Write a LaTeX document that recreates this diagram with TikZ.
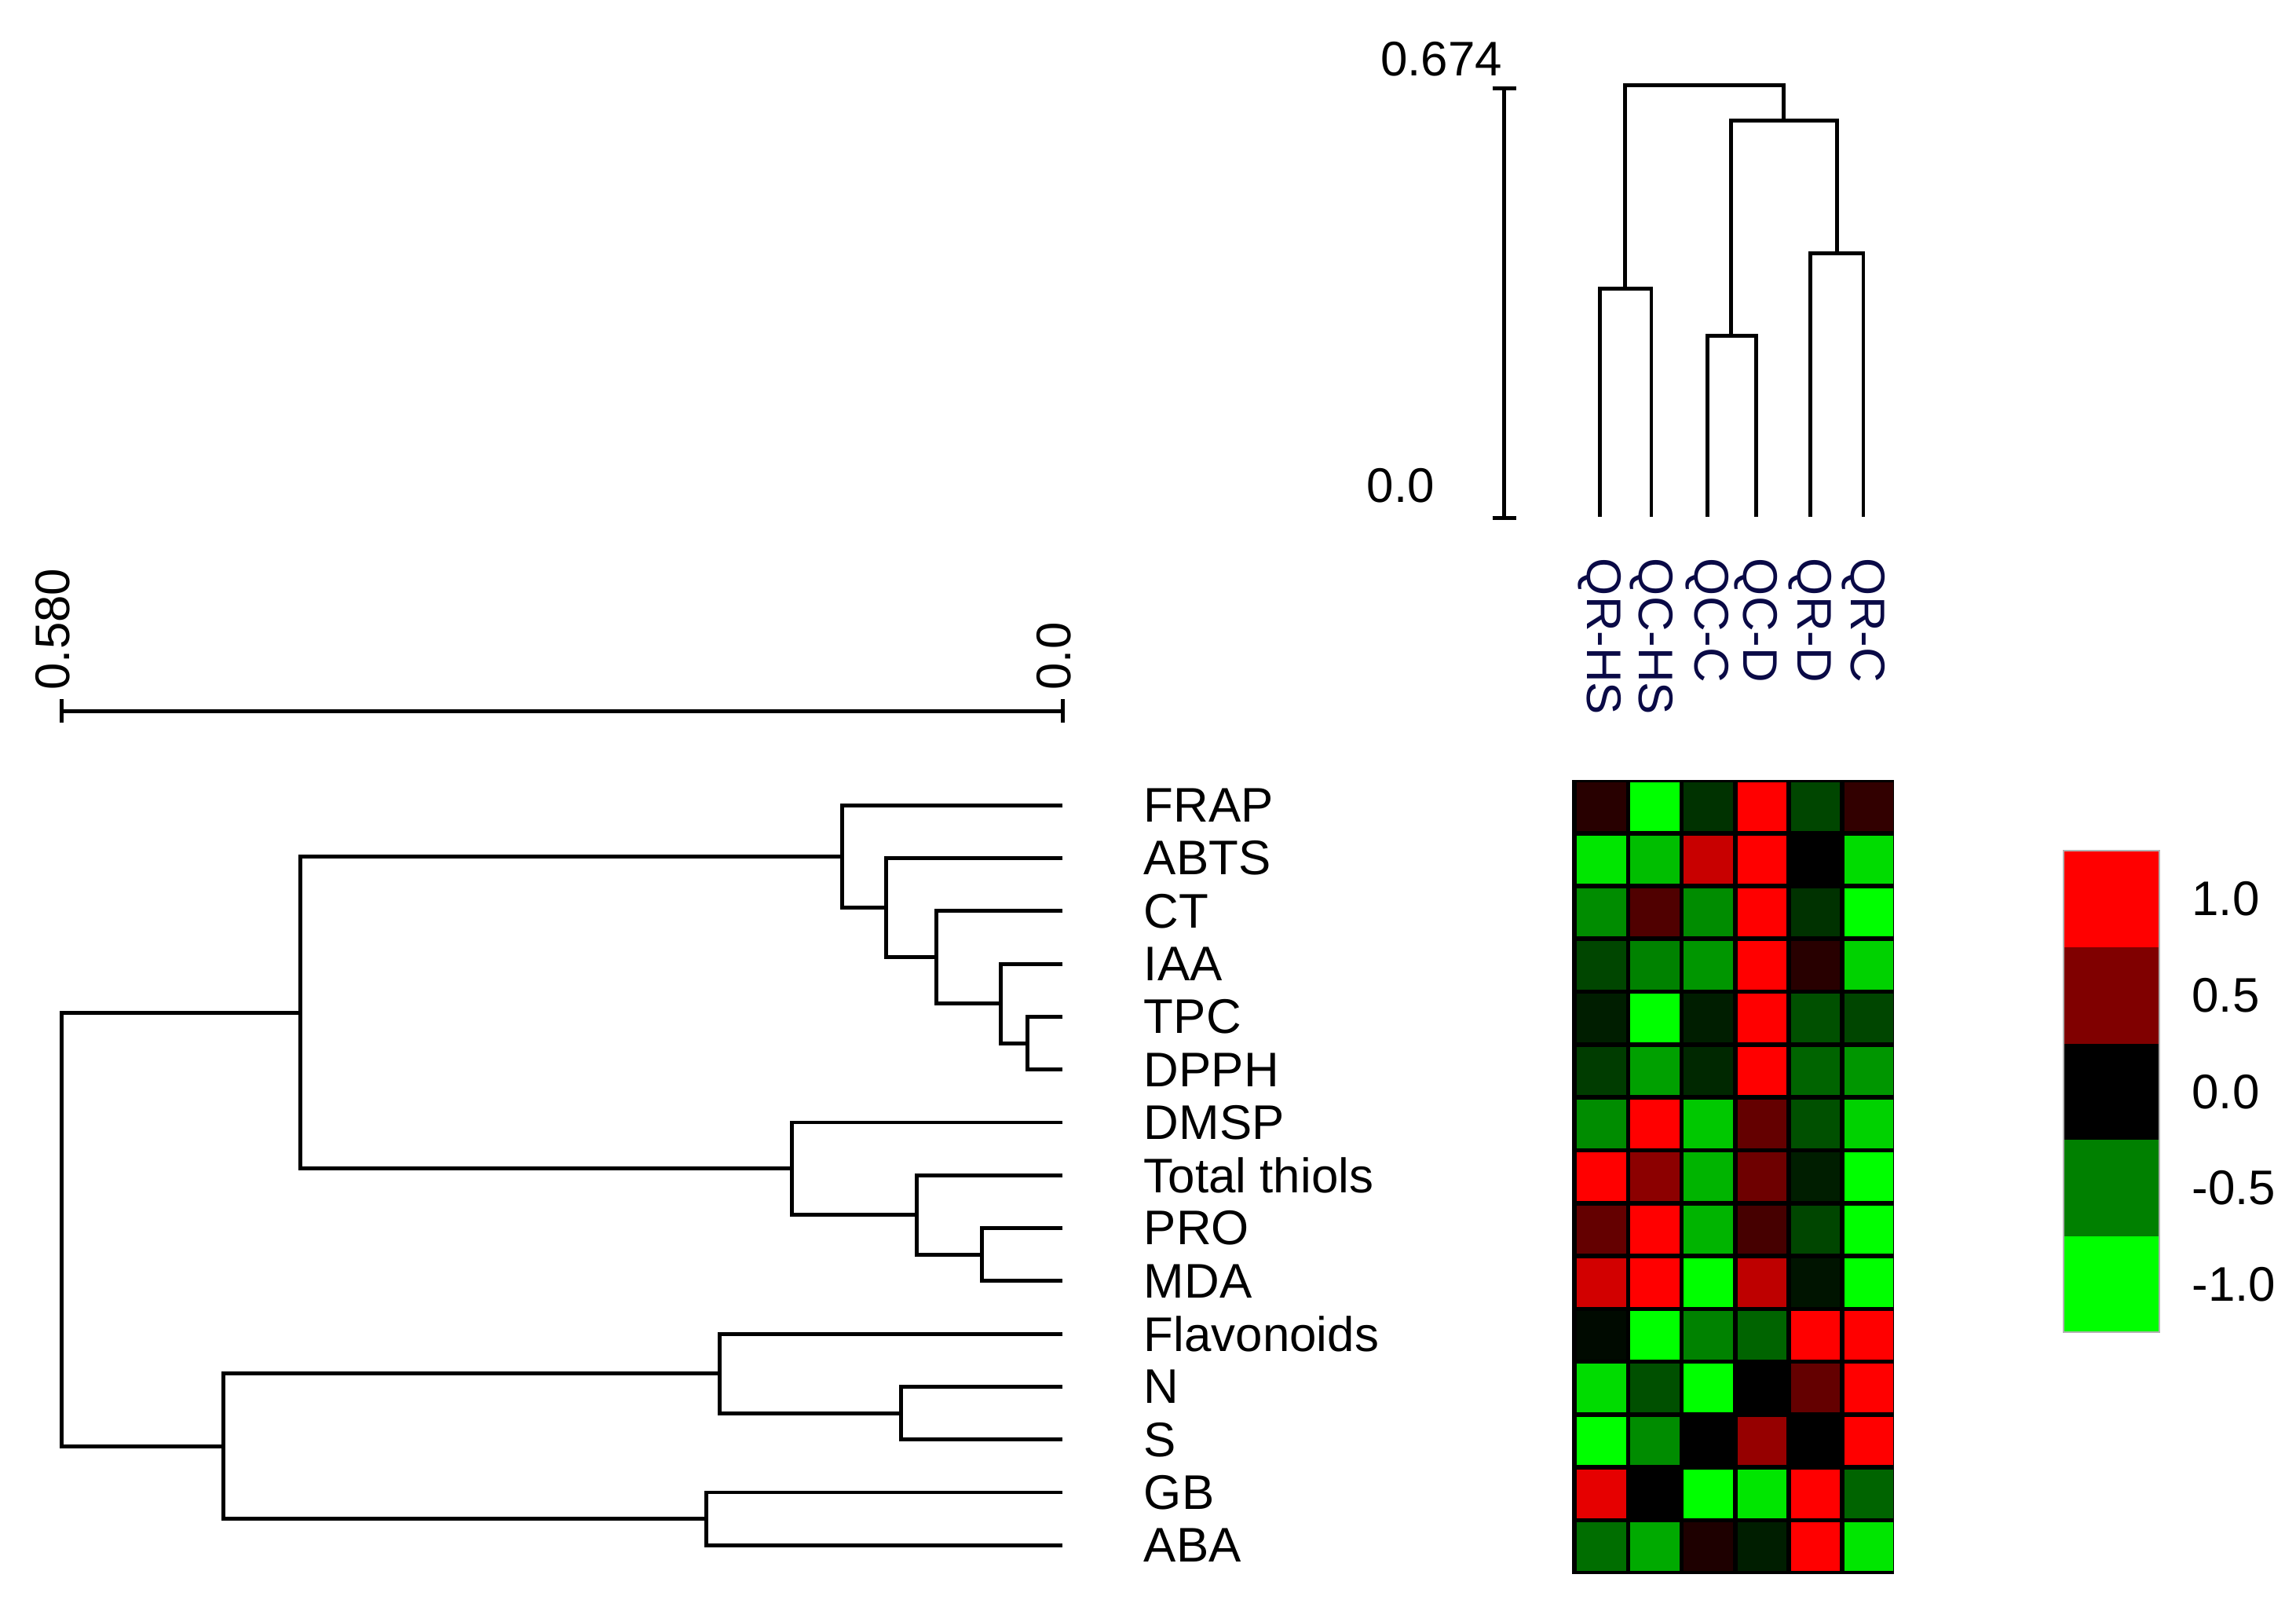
\documentclass[tikz,border=0pt]{standalone}
\usepackage{fontspec}
\setmainfont{Liberation Sans}
\begin{document}
\begin{tikzpicture}[x=1pt,y=-1pt,line width=2.6pt,
  lab/.style={font=\fontsize{33}{33}\selectfont,inner sep=0pt},
  br/.style={line cap=rect}]
\useasboundingbox (0,0) rectangle (1560,1086.4);
% ---------- top dendrogram ----------
\draw (1022,60) -- (1022,352);
\draw (1014,60) -- (1030,60);
\draw (1014,352) -- (1030,352);
\node[lab,anchor=east] at (1022,40) {0.674};
\node[lab,anchor=east] at (976,330) {0.0};
\draw[br] (1087,350) -- (1087,196) -- (1122,196) -- (1122,350);
\draw[br] (1160,350) -- (1160,228) -- (1193,228) -- (1193,350);
\draw[br] (1230,350) -- (1230,172) -- (1266,172) -- (1266,350);
\draw[br] (1176,228) -- (1176,82) -- (1248,82) -- (1248,172);
\draw[br] (1104,196) -- (1104,58) -- (1212,58) -- (1212,82);
\foreach \x/\t in {1087/QR-HS,1122/QC-HS,1160/QC-C,1193/QC-D,1230/QR-D,1266/QR-C}
  \node[lab,rotate=-90,anchor=west,text={rgb,255:red,10;green,10;blue,70}] at (\x,378) {\t};
% ---------- left dendrogram ----------
\draw (42,483) -- (722,483);
\draw (42,475) -- (42,491);
\draw (722,475) -- (722,491);
\node[lab,rotate=90,anchor=west] at (36,470) {0.580};
\node[lab,rotate=90,anchor=west] at (716,470) {0.0};
\foreach \i/\t in {0/FRAP,1/ABTS,2/CT,3/IAA,4/TPC,5/DPPH,6/DMSP,7/Total thiols,8/PRO,9/MDA,10/Flavonoids,11/N,12/S,13/GB,14/ABA}
  \node[lab,anchor=west] at (776,547+35.9*\i) {\t};
\def\Y#1{547+35.9*#1}
\draw (722,{\Y4}) -- (698,{\Y4}) -- (698,{\Y5}) -- (722,{\Y5});
\draw (722,{\Y3}) -- (680,{\Y3}) -- (680,708.55) -- (698,708.55);
\draw (722,{\Y2}) -- (636,{\Y2}) -- (636,681.6) -- (680,681.6);
\draw (722,{\Y1}) -- (602,{\Y1}) -- (602,650.2) -- (636,650.2);
\draw (722,{\Y0}) -- (572,{\Y0}) -- (572,616.6) -- (602,616.6);
\draw (722,{\Y8}) -- (667,{\Y8}) -- (667,{\Y9}) -- (722,{\Y9});
\draw (722,{\Y7}) -- (623,{\Y7}) -- (623,852.2) -- (667,852.2);
\draw (722,{\Y6}) -- (538,{\Y6}) -- (538,825.2) -- (623,825.2);
\draw (572,581.8) -- (204,581.8) -- (204,793.8) -- (538,793.8);
\draw (722,{\Y11}) -- (612,{\Y11}) -- (612,{\Y12}) -- (722,{\Y12});
\draw (722,{\Y10}) -- (489,{\Y10}) -- (489,959.85) -- (612,959.85);
\draw (722,{\Y13}) -- (480,{\Y13}) -- (480,{\Y14}) -- (722,{\Y14});
\draw (489,932.9) -- (152,932.9) -- (152,1031.65) -- (480,1031.65);
\draw (204,687.8) -- (42,687.8) -- (42,982.3) -- (152,982.3);
% ---------- heatmap ----------
\fill[black] (1068,530) rectangle (1287,1069);
\newcommand\hmrow[2]{%
  \foreach \v [count=\j from 0] in {#2} {%
    \ifnum\v>0 \definecolor{cc}{RGB}{\v,0,0}\else
      \pgfmathtruncatemacro\g{-\v}\definecolor{cc}{RGB}{0,\g,0}\fi
    \fill[cc] ({1070+36.3*\j+1.5},{530+35.9*#1+1.5}) rectangle ++(33.3,32.9);
  }}
\hmrow{0}{40,-255,-50,255,-70,50}
\hmrow{1}{-230,-190,200,255,0,-220}
\hmrow{2}{-140,80,-140,255,-50,-255}
\hmrow{3}{-70,-130,-150,255,40,-210}
\hmrow{4}{-30,-255,-30,255,-80,-70}
\hmrow{5}{-60,-160,-40,255,-100,-150}
\hmrow{6}{-140,255,-200,100,-80,-210}
\hmrow{7}{255,140,-180,110,-30,-255}
\hmrow{8}{100,255,-180,70,-70,-255}
\hmrow{9}{210,255,-255,190,-20,-255}
\hmrow{10}{-10,-255,-130,-100,255,255}
\hmrow{11}{-220,-80,-255,0,100,255}
\hmrow{12}{-255,-140,0,150,0,255}
\hmrow{13}{230,0,-255,-230,255,-100}
\hmrow{14}{-110,-170,30,-30,255,-230}
% ---------- legend ----------
\foreach \k/\c/\t in {0/{255,0,0}/1.0,1/{128,0,0}/0.5,2/{0,0,0}/0.0,3/{0,128,0}/-0.5,4/{0,255,0}/-1.0}{
  \definecolor{lc}{RGB}{\c}
  \fill[lc] (1402,{578+65.4*\k}) rectangle ++(65,65.4);
  \node[lab,anchor=west] at (1488,{578+65.4*\k+32.7}) {\t};
}
\draw[line width=1pt,gray!60] (1402,578) rectangle (1467,905);
\end{tikzpicture}
\end{document}
